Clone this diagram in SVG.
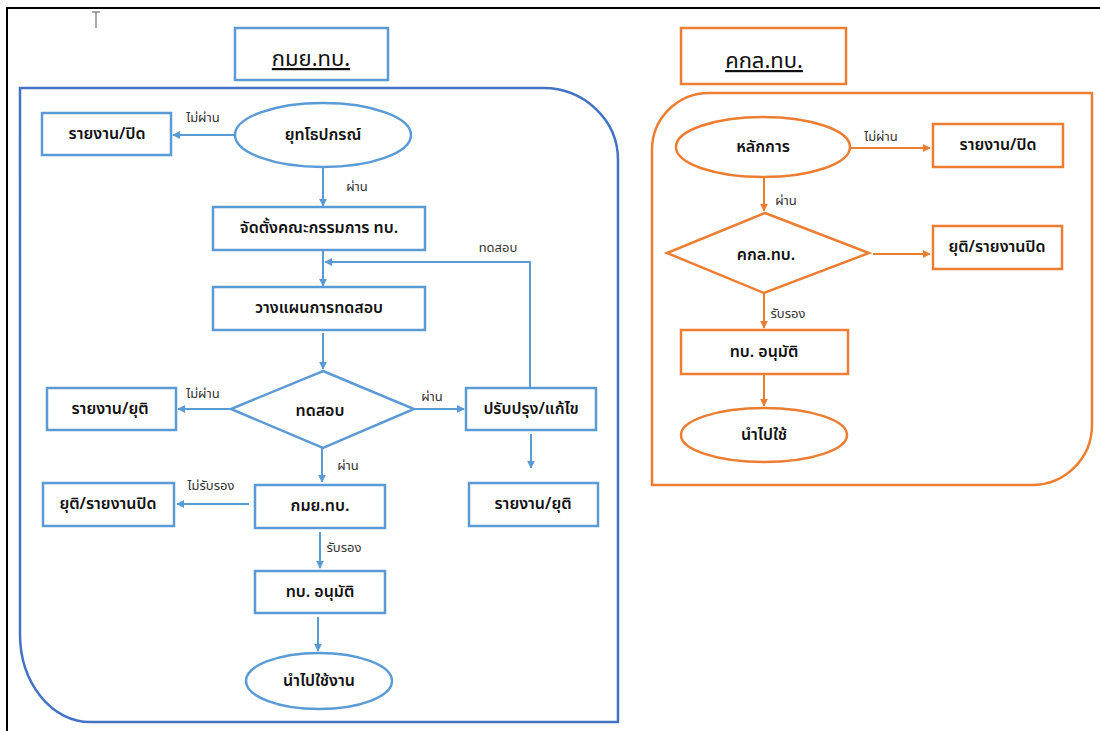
<svg xmlns="http://www.w3.org/2000/svg" width="1100" height="731" viewBox="0 0 1100 731">
<style>
.frame{fill:none;stroke:#000;stroke-width:2}
.bn{fill:#fff;stroke:#5B9BD5;stroke-width:2.5}
.on{fill:#fff;stroke:#ED7D31;stroke-width:2.5}
.bc{fill:none;stroke:#4472C4;stroke-width:2.5}
.oc{fill:none;stroke:#ED7D31;stroke-width:2.5}
.t{font-family:"Noto Sans Thai","Noto Sans","DejaVu Sans",sans-serif;font-size:16px;font-weight:600;fill:#111;text-anchor:middle;dominant-baseline:central}
.h{font-family:"Noto Sans Thai","Noto Sans","DejaVu Sans",sans-serif;font-size:22px;fill:#111;text-anchor:middle;text-decoration:underline}
.l{font-family:"Noto Sans Thai","Noto Sans","DejaVu Sans",sans-serif;font-size:13px;fill:#333;text-anchor:middle;dominant-baseline:central}
.ba{fill:none;stroke:#5B9BD5;stroke-width:2;marker-end:url(#mb)}
.oa{fill:none;stroke:#ED7D31;stroke-width:2;marker-end:url(#mo)}
</style>
<defs>
<marker id="mb" viewBox="0 0 10 10" refX="9" refY="5" markerWidth="8" markerHeight="8" markerUnits="userSpaceOnUse" orient="auto"><path d="M0,0 L10,5 L0,10 Z" fill="#5B9BD5"/></marker>
<marker id="mo" viewBox="0 0 10 10" refX="9" refY="5" markerWidth="8" markerHeight="8" markerUnits="userSpaceOnUse" orient="auto"><path d="M0,0 L10,5 L0,10 Z" fill="#ED7D31"/></marker>
</defs>
<rect width="1100" height="731" fill="#fff"/>
<path class="frame" d="M7,731 V8 H1100"/>
<path d="M96,12 V28 M92,12 H100" stroke="#555" stroke-width="1" fill="none"/>

<g id="left-title"><rect x="235" y="28" width="153" height="52" class="bn"/><text x="311" y="66" class="h">กมย.ทบ.</text></g>
<path id="left-container" class="bc" d="M20,88 H543 A75,72 0 0 1 618,160 V722 H90 A70,88 0 0 1 20,634 Z"/>

<g id="right-title"><rect x="681" y="28" width="165" height="56" class="on"/><text x="764" y="68" class="h">คกล.ทบ.</text></g>
<path id="right-container" class="oc" d="M652,150 A57,57 0 0 1 709,93 H1092 V425 A60,60 0 0 1 1032,485 H652 Z"/>

<g id="connectors">
<path class="ba" d="M235,135 H173"/>
<text class="l" x="203" y="118">ไม่ผ่าน</text>
<path class="ba" d="M323,168 V206"/>
<text class="l" x="357" y="187">ผ่าน</text>
<path class="ba" d="M323,250 V286"/>
<path class="ba" d="M530,387 V262 H325"/>
<text class="l" x="498" y="248">ทดสอบ</text>
<path class="ba" d="M323,333 V369"/>
<path class="ba" d="M231,409 H178"/>
<text class="l" x="203" y="394">ไม่ผ่าน</text>
<path class="ba" d="M414,409 H464"/>
<text class="l" x="432" y="397">ผ่าน</text>
<path class="ba" d="M531,434 V468"/>
<path class="ba" d="M322,448 V482"/>
<text class="l" x="348" y="466">ผ่าน</text>
<path class="ba" d="M249,504 H177"/>
<text class="l" x="211" y="486">ไม่รับรอง</text>
<path class="ba" d="M320,532 V568"/>
<text class="l" x="344" y="548">รับรอง</text>
<path class="ba" d="M318,617 V651"/>

<path class="oa" d="M850,148 H930"/>
<text class="l" x="881" y="137">ไม่ผ่าน</text>
<path class="oa" d="M764,177 V211"/>
<text class="l" x="786" y="201">ผ่าน</text>
<path class="oa" d="M873,254 H930"/>
<path class="oa" d="M764,294 V328"/>
<text class="l" x="788" y="314">รับรอง</text>
<path class="oa" d="M764,374 V406"/>
</g>

<g id="n-report-close"><rect x="42" y="113" width="129" height="42" class="bn"/><text x="107" y="134" class="t">รายงาน/ปิด</text></g>
<g id="n-equipment"><ellipse cx="323" cy="135" rx="88" ry="32" class="bn"/><text x="323" y="135" class="t">ยุทโธปกรณ์</text></g>
<g id="n-committee"><rect x="213" y="207" width="212" height="43" class="bn"/><text x="319" y="228" class="t">จัดตั้งคณะกรรมการ  ทบ.</text></g>
<g id="n-plan"><rect x="213" y="287" width="212" height="43" class="bn"/><text x="319" y="308" class="t">วางแผนการทดสอบ</text></g>
<g id="n-test"><polygon points="323,371 414,409 323,448 231,409" class="bn"/><text x="320" y="411" class="t">ทดสอบ</text></g>
<g id="n-report-stop-1"><rect x="47" y="388" width="129" height="42" class="bn"/><text x="110" y="409" class="t">รายงาน/ยุติ</text></g>
<g id="n-fix"><rect x="466" y="388" width="130" height="42" class="bn"/><text x="531" y="409" class="t">ปรับปรุง/แก้ไข</text></g>
<g id="n-report-stop-2"><rect x="469" y="483" width="129" height="43" class="bn"/><text x="533" y="504" class="t">รายงาน/ยุติ</text></g>
<g id="n-kmy"><rect x="255" y="485" width="130" height="43" class="bn"/><text x="320" y="506" class="t">กมย.ทบ.</text></g>
<g id="n-stop-report-close"><rect x="43" y="483" width="131" height="43" class="bn"/><text x="108" y="504" class="t">ยุติ/รายงานปิด</text></g>
<g id="n-approve-l"><rect x="255" y="571" width="130" height="42" class="bn"/><text x="320" y="592" class="t">ทบ. อนุมัติ</text></g>
<g id="n-use-l"><ellipse cx="319" cy="681" rx="73" ry="28" class="bn"/><text x="319" y="681" class="t">นำไปใช้งาน</text></g>

<g id="n-principle"><ellipse cx="763" cy="147" rx="87" ry="30" class="on"/><text x="763" y="147" class="t">หลักการ</text></g>
<g id="n-report-close-r"><rect x="933" y="124" width="130" height="43" class="on"/><text x="998" y="145" class="t">รายงาน/ปิด</text></g>
<g id="n-kkl"><polygon points="765,213 869,253 764,293 667,253" class="on"/><text x="766" y="255" class="t">คกล.ทบ.</text></g>
<g id="n-stop-report-r"><rect x="933" y="226" width="129" height="43" class="on"/><text x="997" y="247" class="t">ยุติ/รายงานปิด</text></g>
<g id="n-approve-r"><rect x="681" y="330" width="167" height="44" class="on"/><text x="764" y="352" class="t">ทบ. อนุมัติ</text></g>
<g id="n-use-r"><ellipse cx="764" cy="435" rx="83" ry="27" class="on"/><text x="764" y="435" class="t">นำไปใช้</text></g>
</svg>
